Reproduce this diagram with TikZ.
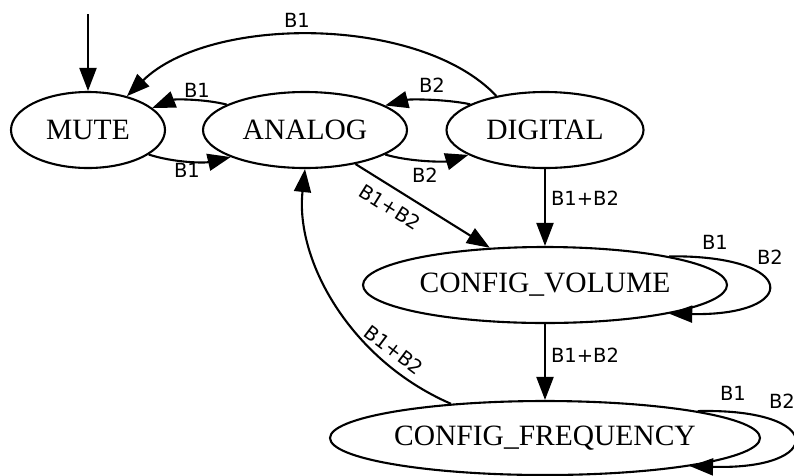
\documentclass[tikz,border=0pt]{standalone}
\usepackage{fontspec}
\setmainfont{Liberation Serif}
\newfontfamily\labfont{DejaVu Sans}
\usetikzlibrary{shapes.geometric,arrows.meta}
\begin{document}
\begin{tikzpicture}[x=1pt,y=-1pt,
 state/.style={draw, ellipse, line width=2.1pt, inner sep=0pt, font=\fontsize{29.5}{30}\selectfont},
 edge/.style={line width=2.1pt, -{Triangle[length=23pt,width=17pt]}},
 lbl/.style={font=\labfont\fontsize{19.5}{20}\selectfont, inner sep=0pt}]
\useasboundingbox (0,0) rectangle (794,475);
\node[state, minimum width=154pt, minimum height=76pt] (mute) at (88,130) {MUTE};
\node[state, minimum width=204pt, minimum height=76pt] (analog) at (305,130) {ANALOG};
\node[state, minimum width=197pt, minimum height=76pt] (digital) at (545,130) {DIGITAL};
\node[state, minimum width=364pt, minimum height=76pt] (cv) at (545,285) {CONFIG\_VOLUME};
\node[state, minimum width=430pt, minimum height=74pt] (cf) at (545,438) {CONFIG\_FREQUENCY};
\coordinate (start) at (88,14);
\draw[edge] (start) -- (mute.north);
\draw[edge] (mute.-22) .. controls (175,163) and (205,163) .. (analog.200);
\draw[edge] (analog.162) .. controls (205,99) and (175,99) .. (mute.19.5);
\draw[edge] (digital.145.5) .. controls (420,15) and (210,15) .. (mute.41.7);
\draw[edge] (digital.161.6) .. controls (445,99) and (410,99) .. (analog.17.8);
\draw[edge] (analog.-17.8) .. controls (410,162) and (445,162) .. (digital.198.4);
\draw[edge] (analog.-34) -- (cv.146);
\draw[edge] (digital.south) -- (cv.north);
\draw[edge] (cv.south) -- (cf.north);
\draw[edge] (cf.160) .. controls (350,360) and (295,260) .. (analog.south);
\draw[edge] (cv.13.4) .. controls (800,255) and (800,316) .. (cv.-13.3);
\draw[edge] (cf.10.9) .. controls (826,408) and (826,470) .. (cf.-11.5);
\node[lbl] (l1) at (297,20) {B1};
\node[lbl] (l2) at (197,90) {B1};
\node[lbl] (l3) at (187,170) {B1};
\node[lbl] (l4) at (432,85) {B2};
\node[lbl] (l5) at (425,175) {B2};
\node[lbl, rotate=-32] (l6) at (390,207) {B1+B2};
\node[lbl] (l7) at (585,198) {B1+B2};
\node[lbl] (l8) at (585,355) {B1+B2};
\node[lbl, rotate=-37] (l9) at (394,350) {B1+B2};
\node[lbl] (l10) at (715,242) {B1};
\node[lbl] (l11) at (770,257) {B2};
\node[lbl] (l12) at (733,393) {B1};
\node[lbl] (l13) at (782,401) {B2};
\end{tikzpicture}
\end{document}
